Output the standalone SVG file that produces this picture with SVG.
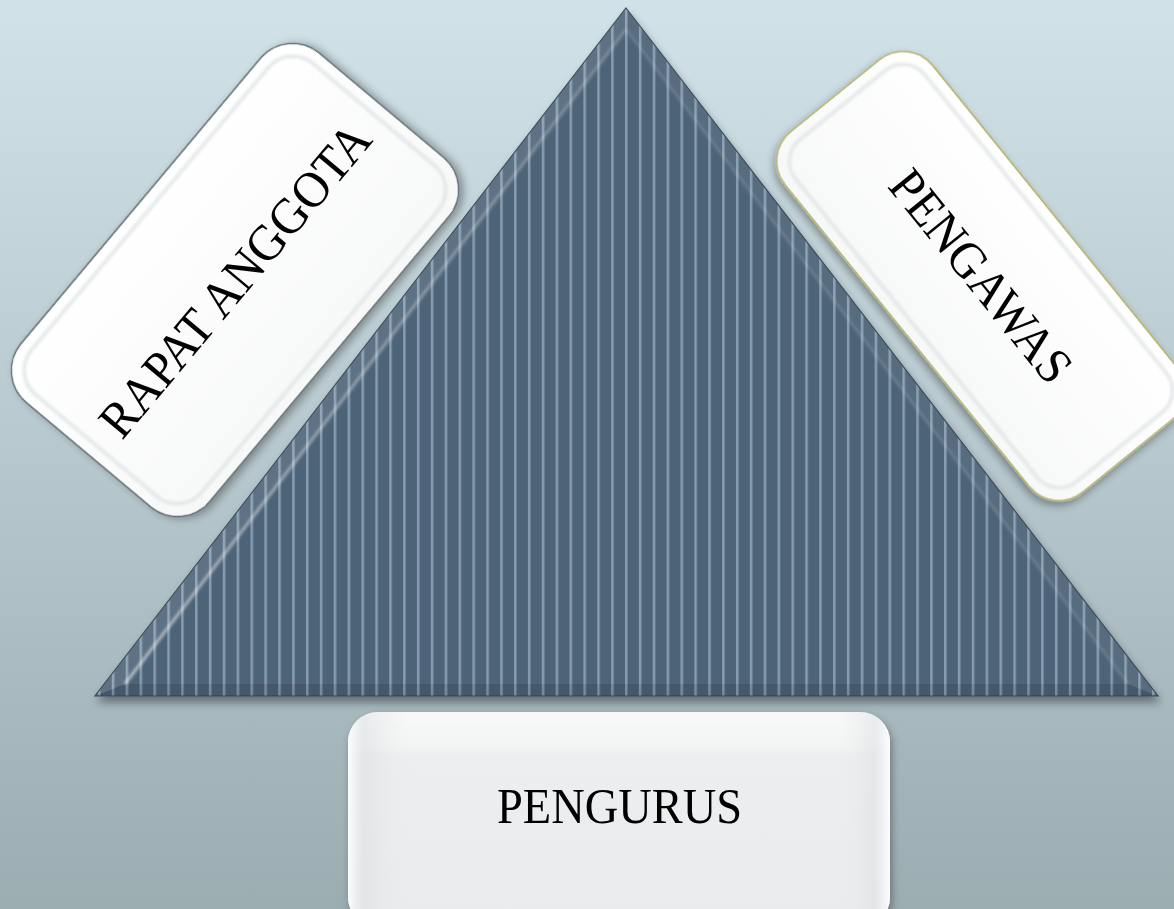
<svg xmlns="http://www.w3.org/2000/svg" width="1174" height="909" viewBox="0 0 1174 909">
  <style>
    .lbl { font-family: "Liberation Serif", "Times New Roman", serif; fill: #000; text-anchor: middle; }
    .card { fill: url(#cardFill); filter: url(#shadow); }
    .bevel { fill: none; stroke: #dfe3e4; stroke-width: 3; filter: url(#soft); }
  </style>
  <defs>
    <linearGradient id="bg" x1="0" y1="0" x2="0" y2="1">
      <stop offset="0" stop-color="#d1e3e9"/>
      <stop offset="1" stop-color="#9cadb2"/>
    </linearGradient>
    <linearGradient id="cardFill" x1="0" y1="0" x2="0" y2="1">
      <stop offset="0" stop-color="#ffffff"/>
      <stop offset="1" stop-color="#f7f8f8"/>
    </linearGradient>
    <linearGradient id="bottomFill" x1="0" y1="0" x2="0" y2="1">
      <stop offset="0" stop-color="#f8fafa"/>
      <stop offset="0.16" stop-color="#f3f5f5"/>
      <stop offset="0.2" stop-color="#eceeef"/>
      <stop offset="1" stop-color="#e9ebec"/>
    </linearGradient>
    <linearGradient id="bottomSide" x1="0" y1="0" x2="1" y2="0">
      <stop offset="0" stop-color="#ffffff" stop-opacity="0.9"/>
      <stop offset="0.03" stop-color="#dde0e1" stop-opacity="0.6"/>
      <stop offset="0.12" stop-color="#eceeef" stop-opacity="0"/>
      <stop offset="0.9" stop-color="#eceeef" stop-opacity="0"/>
      <stop offset="0.97" stop-color="#dfe2e3" stop-opacity="0.6"/>
      <stop offset="1" stop-color="#ffffff" stop-opacity="0.9"/>
    </linearGradient>
    <pattern id="stripes" patternUnits="userSpaceOnUse" x="625" y="0" width="13.87" height="20">
      <rect x="0" y="0" width="13.87" height="20" fill="#4e6378"/>
      <rect x="-0.3" y="0" width="2.6" height="20" fill="#869cb1"/>
      <rect x="-1" y="0" width="4" height="20" fill="#869cb1" opacity="0.35"/>
    </pattern>
    <linearGradient id="hl" x1="0" y1="0" x2="0" y2="1">
      <stop offset="0" stop-color="#ffffff" stop-opacity="0.25"/>
      <stop offset="0.6" stop-color="#ffffff" stop-opacity="0.45"/>
      <stop offset="1" stop-color="#ffffff" stop-opacity="0.7"/>
    </linearGradient>
    <filter id="shadow" x="-20%" y="-20%" width="140%" height="140%">
      <feDropShadow dx="2" dy="4" stdDeviation="4" flood-color="#000" flood-opacity="0.35"/>
    </filter>
    <filter id="triShadow" x="-10%" y="-10%" width="120%" height="120%">
      <feDropShadow dx="2" dy="6" stdDeviation="4" flood-color="#000" flood-opacity="0.4"/>
    </filter>
    <filter id="soft" x="-10%" y="-10%" width="120%" height="120%">
      <feGaussianBlur stdDeviation="1.5"/>
    </filter>
  </defs>

  <rect x="0" y="0" width="1174" height="909" fill="url(#bg)"/>

  <g id="node-pyramid">
    <polygon points="626,8 1158,696 95,696" fill="url(#stripes)" stroke="#3a4856" stroke-width="1.2" filter="url(#triShadow)"/>
    <polygon points="626,8 95,696 125,684 626,30" fill="#ffffff" opacity="0.1"/>
    <polygon points="626,8 1158,696 1128,684 626,30" fill="#ffffff" opacity="0.06"/>
    <polygon points="95,696 1158,696 1128,684 125,684" fill="#000000" opacity="0.1"/>
    <line x1="626" y1="30" x2="125" y2="684" stroke="url(#hl)" stroke-width="2.5" filter="url(#soft)"/>
    <line x1="626" y1="30" x2="1128" y2="684" stroke="#ffffff" stroke-opacity="0.2" stroke-width="2" filter="url(#soft)"/>
  </g>

  <g id="connectors"/>

  <g id="node-rapat-anggota" transform="translate(235,280) rotate(-50)">
    <rect class="card" x="-228" y="-123" width="456" height="246" rx="42" stroke="#5f6a6e" stroke-width="1.5"/>
    <rect class="bevel" x="-216" y="-111" width="432" height="222" rx="32"/>
    <text class="lbl" x="0" y="17" font-size="51" textLength="392" lengthAdjust="spacingAndGlyphs">RAPAT ANGGOTA</text>
  </g>

  <g id="node-pengawas" transform="translate(981,276) rotate(51)">
    <rect class="card" x="-232" y="-95" width="464" height="190" rx="38" stroke="#b9ba7a" stroke-width="1.8"/>
    <rect class="bevel" x="-220" y="-83" width="440" height="166" rx="28"/>
    <text class="lbl" x="0" y="17" font-size="51" textLength="258" lengthAdjust="spacingAndGlyphs">PENGAWAS</text>
  </g>

  <g id="node-pengurus">
    <rect x="348" y="712" width="542" height="215" rx="30" fill="url(#bottomFill)" filter="url(#shadow)"/>
    <rect x="348" y="712" width="542" height="215" rx="30" fill="url(#bottomSide)"/>
    <text class="lbl" x="619.5" y="823" font-size="51" textLength="245" lengthAdjust="spacingAndGlyphs">PENGURUS</text>
  </g>
</svg>
